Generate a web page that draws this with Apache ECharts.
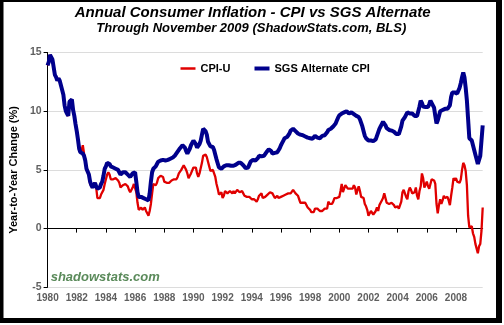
<!DOCTYPE html>
<html>
<head>
<meta charset="utf-8">
<script src="https://cdn.jsdelivr.net/npm/echarts@6/dist/echarts.min.js"></script>
<style>
html,body{margin:0;padding:0;background:#fff;}
#chart{width:504px;height:325px;}
</style>
</head>
<body>
<div id="chart"></div>
<script>
// Monthly year-over-year inflation, Jan 1980 .. Nov 2009
const startYear = 1980;
const endYear = 2009;
const endMonth = 11;
const yTicks = [-5, 0, 5, 10, 15];

const cpiU = [
  13.9, 14.2, 14.8, 14.7, 14.4, 14.4, 13.1, 12.9, 12.6, 12.8, 12.6, 12.5, // 1980
  11.8, 11.4, 10.5, 10.0, 9.8, 9.6, 10.8, 10.8, 11.0, 10.1, 9.6, 8.9,     // 1981
  8.4, 7.6, 6.8, 6.5, 6.7, 7.1, 6.4, 5.9, 5.0, 5.1, 4.6, 3.8,             // 1982
  3.7, 3.5, 3.6, 3.9, 3.5, 2.6, 2.5, 2.6, 2.9, 2.9, 3.3, 3.8,             // 1983
  4.2, 4.6, 4.8, 4.6, 4.2, 4.2, 4.2, 4.3, 4.3, 4.3, 4.1, 3.9,             // 1984
  3.5, 3.5, 3.7, 3.7, 3.8, 3.8, 3.6, 3.3, 3.1, 3.2, 3.5, 3.8,             // 1985
  3.9, 3.1, 2.2, 1.6, 1.5, 1.8, 1.6, 1.6, 1.8, 1.5, 1.3, 1.1,             // 1986
  1.5, 2.1, 3.0, 3.8, 3.9, 3.7, 3.9, 4.3, 4.4, 4.5, 4.5, 4.4,             // 1987
  4.0, 3.9, 3.9, 3.9, 3.9, 4.0, 4.1, 4.0, 4.2, 4.2, 4.2, 4.4,             // 1988
  4.7, 4.8, 5.0, 5.1, 5.4, 5.2, 5.0, 4.7, 4.3, 4.5, 4.7, 4.6,             // 1989
  5.2, 5.3, 5.2, 4.7, 4.4, 4.7, 4.8, 5.6, 6.2, 6.3, 6.3, 6.1,             // 1990
  5.7, 5.3, 4.9, 4.9, 5.0, 4.7, 4.4, 3.8, 3.4, 2.9, 3.0, 3.1,             // 1991
  2.6, 2.8, 3.2, 3.2, 3.0, 3.1, 3.2, 3.1, 3.0, 3.2, 3.0, 2.9,             // 1992
  3.3, 3.2, 3.1, 3.2, 3.2, 3.0, 2.8, 2.8, 2.7, 2.8, 2.7, 2.7,             // 1993
  2.5, 2.5, 2.5, 2.4, 2.3, 2.5, 2.8, 2.9, 3.0, 2.6, 2.7, 2.7,             // 1994
  2.8, 2.9, 2.9, 3.1, 3.2, 3.0, 2.8, 2.6, 2.5, 2.8, 2.6, 2.5,             // 1995
  2.7, 2.7, 2.8, 2.9, 2.9, 2.8, 3.0, 2.9, 3.0, 3.0, 3.3, 3.3,             // 1996
  3.0, 3.0, 2.8, 2.5, 2.2, 2.3, 2.2, 2.2, 2.2, 2.1, 1.8, 1.7,             // 1997
  1.6, 1.4, 1.4, 1.4, 1.7, 1.7, 1.7, 1.6, 1.5, 1.5, 1.5, 1.6,             // 1998
  1.7, 1.6, 1.7, 2.3, 2.1, 2.0, 2.1, 2.3, 2.6, 2.6, 2.6, 2.7,             // 1999
  2.7, 3.2, 3.8, 3.1, 3.2, 3.7, 3.7, 3.4, 3.5, 3.4, 3.4, 3.4,             // 2000
  3.7, 3.5, 2.9, 3.3, 3.6, 3.2, 2.7, 2.7, 2.6, 2.1, 1.9, 1.6,             // 2001
  1.1, 1.1, 1.5, 1.6, 1.2, 1.1, 1.5, 1.8, 1.5, 2.0, 2.2, 2.4,             // 2002
  2.6, 3.0, 3.0, 2.2, 2.1, 2.1, 2.1, 2.2, 2.3, 2.0, 1.8, 1.9,             // 2003
  1.9, 1.7, 1.7, 2.3, 3.1, 3.3, 3.0, 2.7, 2.5, 3.2, 3.5, 3.3,             // 2004
  3.0, 3.0, 3.1, 3.5, 2.8, 2.5, 3.2, 3.6, 4.7, 4.3, 3.5, 3.4,             // 2005
  4.0, 3.6, 3.4, 3.5, 4.2, 4.3, 4.1, 3.8, 2.1, 1.3, 2.0, 2.5,             // 2006
  2.1, 2.4, 2.8, 2.6, 2.7, 2.7, 2.4, 2.0, 2.8, 3.5, 4.3, 4.1,             // 2007
  4.3, 4.0, 4.0, 3.9, 4.2, 5.0, 5.6, 5.4, 4.9, 3.7, 1.1, 0.1,             // 2008
  0.0, 0.2, -0.4, -0.7, -1.3, -1.4, -2.1, -1.5, -1.3, -0.2, 1.8           // 2009
];

const sgsAlt = [
  13.9, 14.2, 14.8, 14.7, 14.4, 14.4, 13.1, 12.9, 12.6, 12.8, 12.6, 12.5, // 1980
  11.8, 11.4, 10.5, 10.0, 9.8, 9.6, 10.8, 10.8, 11.0, 10.1, 9.6, 8.9,     // 1981
  8.3, 7.6, 6.8, 6.5, 6.6, 6.4, 6.2, 5.8, 5.1, 5.0, 4.6, 4.0,             // 1982
  3.7, 3.5, 3.6, 3.9, 3.6, 3.4, 3.4, 3.5, 3.8, 4.0, 4.5, 5.1,             // 1983
  5.3, 5.6, 5.7, 5.5, 5.3, 5.2, 5.2, 5.2, 5.1, 5.1, 5.0, 4.8,             // 1984
  4.6, 4.7, 4.8, 4.8, 4.8, 4.7, 4.6, 4.5, 4.4, 4.5, 4.7, 4.8,             // 1985
  4.8, 4.0, 3.1, 2.7, 2.6, 2.7, 2.6, 2.6, 2.6, 2.5, 2.4, 2.4,             // 1986
  3.0, 4.0, 4.8, 5.1, 5.2, 5.3, 5.5, 5.7, 5.75, 5.8, 5.85, 5.85,          // 1987
  5.8, 5.8, 5.8, 5.85, 5.9, 5.95, 6.0, 6.05, 6.15, 6.25, 6.4, 6.55,       // 1988
  6.7, 6.85, 7.0, 7.1, 7.1, 6.9, 6.6, 6.4, 6.5, 6.8, 7.1, 7.3,            // 1989
  7.5, 7.5, 7.2, 6.9, 6.8, 7.2, 7.5, 8.0, 8.5, 8.5, 8.3, 8.0,             // 1990
  7.4, 7.2, 7.0, 7.0, 6.95, 6.7, 6.3, 5.9, 5.55, 5.2, 5.15, 5.1,          // 1991
  5.2, 5.3, 5.4, 5.4, 5.35, 5.4, 5.4, 5.35, 5.4, 5.35, 5.4, 5.45,         // 1992
  5.5, 5.6, 5.7, 5.6, 5.45, 5.4, 5.3, 5.15, 5.1, 5.2, 5.45, 5.7,          // 1993
  5.8, 5.85, 5.8, 5.8, 5.85, 6.0, 6.2, 6.25, 6.15, 6.1, 6.2, 6.35,        // 1994
  6.5, 6.6, 6.75, 6.8, 6.6, 6.4, 6.4, 6.45, 6.5, 6.5, 6.6, 6.85,          // 1995
  7.1, 7.3, 7.5, 7.7, 7.75, 7.8, 7.85, 8.1, 8.35, 8.45, 8.5, 8.5,         // 1996
  8.3, 8.15, 8.1, 8.05, 8.0, 7.95, 7.95, 7.9, 7.85, 7.8, 7.75, 7.7,       // 1997
  7.7, 7.7, 7.65, 7.75, 7.9, 7.85, 7.75, 7.7, 7.7, 7.8, 7.9, 7.9,         // 1998
  7.95, 8.1, 8.2, 8.4, 8.45, 8.5, 8.6, 8.7, 8.8, 8.95, 9.2, 9.45,         // 1999
  9.65, 9.75, 9.8, 9.8, 9.9, 10.0, 10.0, 9.9, 9.8, 9.85, 9.9, 9.85,       // 2000
  9.75, 9.7, 9.6, 9.55, 9.5, 9.3, 9.0, 8.7, 8.3, 7.9, 7.7, 7.55,          // 2001
  7.5, 7.5, 7.5, 7.45, 7.45, 7.45, 7.6, 7.9, 8.2, 8.5, 8.7, 8.9,          // 2002
  9.1, 9.15, 8.8, 8.55, 8.45, 8.4, 8.4, 8.35, 8.35, 8.25, 8.15, 8.05,     // 2003
  8.0, 8.05, 8.15, 8.7, 9.2, 9.35, 9.5, 9.65, 9.9, 9.9, 9.8, 9.75,        // 2004
  9.8, 9.7, 9.6, 9.5, 9.6, 10.0, 10.4, 10.9, 10.7, 10.4, 10.35, 10.35,    // 2005
  10.4, 10.35, 10.6, 10.9, 10.9, 10.5, 10.3, 9.6, 8.95, 9.2, 9.6, 10.0,   // 2006
  10.1, 10.1, 10.2, 10.2, 10.25, 10.2, 10.1, 10.5, 11.2, 11.6, 11.65, 11.6, // 2007
  11.6, 11.5, 11.5, 12.0, 12.4, 12.9, 13.3, 12.9, 12.0, 10.9, 9.3, 7.7,   // 2008
  7.6, 7.5, 7.1, 6.7, 6.3, 5.9, 5.5, 5.6, 6.2, 7.5, 8.8                   // 2009
];

const months = [];
for (let y = startYear; y <= endYear; y++) {
  for (let m = 1; m <= 12; m++) {
    if (y === endYear && m > endMonth) break;
    months.push(y + '-' + (m < 10 ? '0' + m : m));
  }
}

const FONT = '"Liberation Sans", Arial, sans-serif';
const RED = '#e00000';
const BLUE = '#00008c';
const chart = echarts.init(document.getElementById('chart'), null, {renderer: 'canvas'});
const showEvery2y = (idx) => idx % 24 === 0;
const legendText = {fontFamily: FONT, fontSize: 11, fontWeight: 'bold', color: '#000'};

chart.setOption({
  backgroundColor: '#ffffff',
  animation: false,
  textStyle: {fontFamily: FONT},
  grid: {left: 47.3, right: 21.3, top: 52.5, bottom: 37.7, containLabel: false},
  legend: [
    {
      left: 175.5, top: 58, itemWidth: 15, itemHeight: 2.5, icon: 'rect', itemGap: 0,
      data: ['CPI-U'], textStyle: legendText, selectedMode: false
    },
    {
      left: 249.5, top: 58, itemWidth: 15, itemHeight: 4, icon: 'rect', itemGap: 0,
      data: ['SGS Alternate CPI'], textStyle: legendText, selectedMode: false
    }
  ],
  xAxis: {
    type: 'category',
    data: months,
    boundaryGap: false,
    axisLine: {lineStyle: {color: '#000', width: 1}},
    axisTick: {interval: showEvery2y, length: 4, lineStyle: {color: '#000'}},
    axisLabel: {
      interval: showEvery2y, margin: 6,
      formatter: (v) => v.slice(0, 4),
      fontFamily: FONT, fontSize: 10, fontWeight: 'bold', color: '#5f5f5f'
    },
    splitLine: {show: false}
  },
  yAxis: {
    type: 'value',
    min: yTicks[0], max: yTicks[yTicks.length - 1], interval: 5,
    name: 'Year-to-Year Change (%)',
    nameLocation: 'middle', nameRotate: 90, nameGap: 27.5,
    nameTextStyle: {fontFamily: FONT, fontSize: 11, fontWeight: 'bold', color: '#000'},
    axisLine: {show: true, lineStyle: {color: '#000', width: 1}},
    axisTick: {show: true, length: 4, lineStyle: {color: '#000'}},
    axisLabel: {margin: 6, fontFamily: FONT, fontSize: 10.5, fontWeight: 'bold', color: '#5f5f5f'},
    splitLine: {show: true, lineStyle: {color: '#dcdcdc', width: 1}}
  },
  series: [
    {
      name: 'CPI-U', type: 'line', data: cpiU, symbol: 'none', showSymbol: false,
      lineStyle: {color: RED, width: 2.3}, itemStyle: {color: RED}, z: 2
    },
    {
      name: 'SGS Alternate CPI', type: 'line', data: sgsAlt, symbol: 'none', showSymbol: false,
      lineStyle: {color: BLUE, width: 4}, itemStyle: {color: BLUE}, z: 3
    }
  ],
  graphic: [
    {type: 'text', x: 252.7, y: 12.8, style: {text: 'Annual Consumer Inflation - CPI vs SGS Alternate',
      font: 'italic bold 15px ' + FONT, fill: '#000', textAlign: 'center', textVerticalAlign: 'middle'}},
    {type: 'text', x: 251.3, y: 28.8, style: {text: 'Through November 2009 (ShadowStats.com, BLS)',
      font: 'italic bold 13px ' + FONT, fill: '#000', textAlign: 'center', textVerticalAlign: 'middle'}},
    {type: 'text', x: 50.7, y: 277, z: 10, style: {text: 'shadowstats.com',
      font: 'italic bold 13px ' + FONT, fill: '#5a8a5a', textAlign: 'left', textVerticalAlign: 'middle'}},
    {type: 'rect', shape: {x: 0, y: 0, width: 3.5, height: 322}, style: {fill: '#000'}},
    {type: 'rect', shape: {x: 0, y: 0, width: 502, height: 2}, style: {fill: '#000'}},
    {type: 'rect', shape: {x: 496, y: 0, width: 6, height: 323}, style: {fill: '#000'}},
    {type: 'rect', shape: {x: 0, y: 318, width: 502, height: 5}, style: {fill: '#000'}}
  ]
});
</script>
</body>
</html>
